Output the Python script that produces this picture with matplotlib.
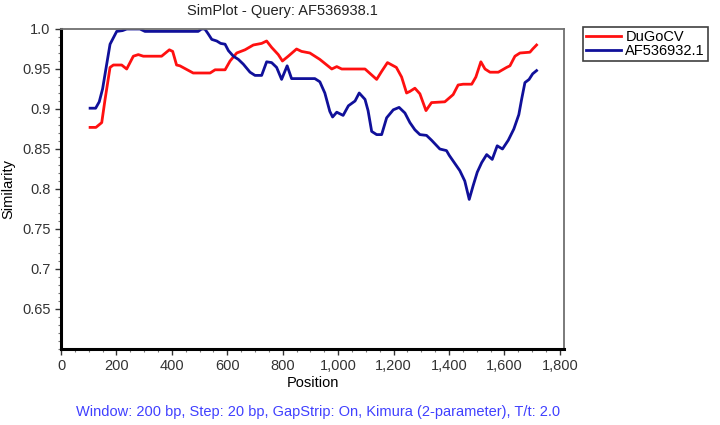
import matplotlib
matplotlib.use("Agg")
import matplotlib.pyplot as plt
from matplotlib.ticker import MultipleLocator, FuncFormatter

plt.rcParams['font.family'] = ['Liberation Sans', 'DejaVu Sans']

red_pos = [105, 126, 147, 159, 177, 189, 219, 237, 261, 279, 297, 363, 391, 403, 417, 429, 477, 538,
           556, 592, 610, 634, 664, 694, 724, 742, 760, 784, 799, 820, 850, 868, 898, 934, 977, 995,
           1013, 1097, 1139, 1157, 1178, 1210, 1229, 1247, 1259, 1277, 1295, 1317, 1337, 1385, 1415,
           1433, 1451, 1482, 1497, 1515, 1530, 1548, 1578, 1608, 1620, 1638, 1656, 1692, 1702, 1716]
red_val = [0.877, 0.877, 0.883, 0.912, 0.952, 0.955, 0.955, 0.950, 0.966, 0.968, 0.966, 0.966, 0.974,
           0.972, 0.955, 0.954, 0.945, 0.945, 0.949, 0.949, 0.960, 0.970, 0.974, 0.980, 0.982, 0.985,
           0.977, 0.968, 0.960, 0.966, 0.975, 0.972, 0.970, 0.962, 0.950, 0.953, 0.950, 0.950, 0.937,
           0.947, 0.958, 0.952, 0.940, 0.920, 0.922, 0.926, 0.919, 0.898, 0.908, 0.909, 0.918, 0.930,
           0.931, 0.931, 0.940, 0.959, 0.950, 0.946, 0.946, 0.952, 0.954, 0.966, 0.970, 0.971, 0.975,
           0.980]

blue_pos = [105, 125, 138, 150, 162, 177, 189, 201, 222, 237, 285, 303, 495, 507, 519, 531, 544, 562,
            576, 592, 604, 622, 640, 658, 682, 700, 724, 742, 760, 778, 796, 816, 832, 916, 934, 952,
            970, 980, 995, 1018, 1037, 1061, 1076, 1097, 1108, 1121, 1139, 1157, 1175, 1199, 1220,
            1241, 1259, 1277, 1295, 1319, 1337, 1367, 1391, 1401, 1421, 1439, 1457, 1473, 1487, 1502,
            1518, 1536, 1556, 1574, 1593, 1614, 1634, 1652, 1662, 1674, 1689, 1702, 1716]
blue_val = [0.901, 0.901, 0.909, 0.925, 0.950, 0.981, 0.989, 0.997, 0.998, 1.0, 1.0, 0.997, 0.997,
            1.0, 1.0, 0.994, 0.987, 0.985, 0.982, 0.981, 0.973, 0.966, 0.962, 0.956, 0.946, 0.942,
            0.942, 0.959, 0.958, 0.952, 0.937, 0.954, 0.938, 0.938, 0.934, 0.920, 0.897, 0.890, 0.896,
            0.892, 0.904, 0.910, 0.920, 0.912, 0.898, 0.872, 0.868, 0.868, 0.889, 0.899, 0.902, 0.895,
            0.883, 0.874, 0.868, 0.867, 0.861, 0.850, 0.848, 0.842, 0.832, 0.823, 0.810, 0.787, 0.804,
            0.821, 0.833, 0.843, 0.837, 0.854, 0.850, 0.861, 0.875, 0.893, 0.912, 0.933, 0.937, 0.944,
            0.948]

series_names = ["DuGoCV", "AF536932.1"]
y_ticks = [0.65, 0.7, 0.75, 0.8, 0.85, 0.9, 0.95, 1.0]
y_tick_labels = ["0.65", "0.7", "0.75", "0.8", "0.85", "0.9", "0.95", "1.0"]
x_ticks = [0, 200, 400, 600, 800, 1000, 1200, 1400, 1600, 1800]

fig = plt.figure(figsize=(7.2, 4.25), dpi=100)
ax = fig.add_axes([61/720, 1-349/425, (564-61)/720, (349-29)/425])

ax.plot(red_pos, red_val, color='#ff1010', lw=2.0, label=series_names[0])
ax.plot(blue_pos, blue_val, color='#10109a', lw=2.0, label=series_names[1])

ax.set_xlim(0, 1815)
ax.set_ylim(0.6, 1.0)
ax.set_xticks(x_ticks)
ax.xaxis.set_major_formatter(FuncFormatter(lambda v, p: f"{int(v):,}"))
ax.xaxis.set_minor_locator(MultipleLocator(50))
ax.set_yticks(y_ticks)
ax.set_yticklabels(y_tick_labels)
ax.yaxis.set_minor_locator(MultipleLocator(0.01))
ax.tick_params(axis='both', which='major', direction='out', length=4, width=1, labelsize=10.5,
               colors='#333333', labelcolor='#333333')
ax.tick_params(axis='both', which='minor', direction='out', length=2, width=0.8, colors='#777777')
ax.tick_params(top=False, right=False)

for s in ['left', 'bottom']:
    ax.spines[s].set_linewidth(2.2)
    ax.spines[s].set_color('black')
for s in ['top', 'right']:
    ax.spines[s].set_linewidth(1.3)
    ax.spines[s].set_color('#707070')

ax.set_xlabel("Position", fontsize=10.5, labelpad=2)
ax.set_ylabel("Similarity", fontsize=10.5, labelpad=5)

fig.text(282/720, 1-11/425, "SimPlot - Query: AF536938.1", ha='center', va='center', fontsize=10.5,
         color='#222222')
fig.text(318/720, 1-412/425, "Window: 200 bp, Step: 20 bp, GapStrip: On, Kimura (2-parameter), T/t: 2.0",
         ha='center', va='center', fontsize=10.5, color='#4040ff')

leg = fig.legend(loc='upper left', bbox_to_anchor=(583/720, 1-27/425), borderaxespad=0,
                 fancybox=False, edgecolor='#404040', fontsize=10.5, handlelength=2.4,
                 borderpad=0.2, labelspacing=0.0, handletextpad=0.3, framealpha=1)
leg.get_frame().set_linewidth(1.2)

fig.savefig("out.png", dpi=100)
